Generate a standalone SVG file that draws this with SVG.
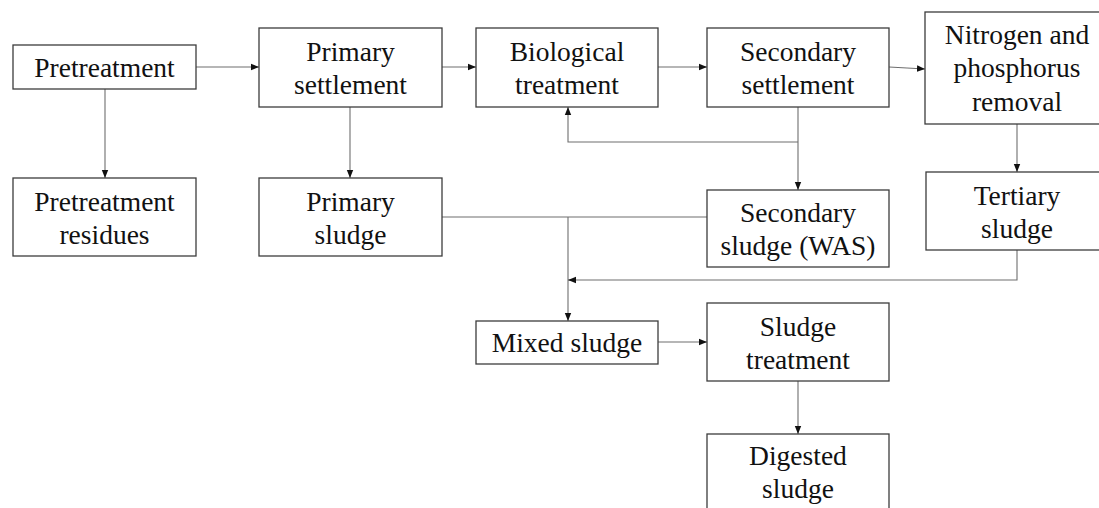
<svg xmlns="http://www.w3.org/2000/svg" width="1099" height="508" viewBox="0 0 1099 508">
<style>
.box{fill:#fff;stroke:#3c3c3c;stroke-width:1.3}
.t{font-family:"Liberation Serif","Times New Roman",serif;font-size:27.5px;fill:#111;text-anchor:middle}
.c{fill:none;stroke:#6e6e6e;stroke-width:1.1}
.a{marker-end:url(#ah)}
</style>
<defs>
<marker id="ah" viewBox="0 0 8 8" refX="8" refY="4" markerWidth="8" markerHeight="8" markerUnits="userSpaceOnUse" orient="auto">
<path d="M0,0.8 L8,4 L0,7.2 Z" fill="#111"/>
</marker>
</defs>
<rect width="1099" height="508" fill="#fff"/>
<g id="connectors">
<path class="c a" d="M196,67 H259"/>
<path class="c a" d="M442,67 H476"/>
<path class="c a" d="M658,67 H707"/>
<path class="c a" d="M889,67 L925,69"/>
<path class="c a" d="M105,89 V178"/>
<path class="c a" d="M350,107 V178"/>
<path class="c a" d="M798,107 V190"/>
<path class="c a" d="M798,142 H568 V107"/>
<path class="c a" d="M1017,124 V172"/>
<path class="c" d="M442,217 H707"/>
<path class="c a" d="M568,217 V321"/>
<path class="c a" d="M1017,250 V280 H568"/>
<path class="c a" d="M658,342 H707"/>
<path class="c a" d="M798,381 V434"/>
</g>
<g id="pretreatment"><rect class="box" x="13" y="45" width="183" height="44"/><text class="t" x="104.5" y="77">Pretreatment</text></g>
<g id="primary-settlement"><rect class="box" x="259" y="28" width="183" height="79"/><text class="t" x="350.5" y="61">Primary</text><text class="t" x="350.5" y="94">settlement</text></g>
<g id="biological-treatment"><rect class="box" x="476" y="28" width="182" height="79"/><text class="t" x="567" y="61">Biological</text><text class="t" x="567" y="94">treatment</text></g>
<g id="secondary-settlement"><rect class="box" x="707" y="28" width="182" height="79"/><text class="t" x="798" y="61">Secondary</text><text class="t" x="798" y="94">settlement</text></g>
<g id="nitrogen-phosphorus-removal"><rect class="box" x="925" y="12" width="184" height="112"/><text class="t" x="1017" y="44">Nitrogen and</text><text class="t" x="1017" y="77">phosphorus</text><text class="t" x="1017" y="111">removal</text></g>
<g id="pretreatment-residues"><rect class="box" x="13" y="178" width="183" height="78"/><text class="t" x="104.5" y="211">Pretreatment</text><text class="t" x="104.5" y="244">residues</text></g>
<g id="primary-sludge"><rect class="box" x="259" y="178" width="183" height="78"/><text class="t" x="350.5" y="211">Primary</text><text class="t" x="350.5" y="244">sludge</text></g>
<g id="secondary-sludge"><rect class="box" x="707" y="190" width="182" height="77"/><text class="t" x="798" y="222">Secondary</text><text class="t" x="798" y="255">sludge (WAS)</text></g>
<g id="tertiary-sludge"><rect class="box" x="926" y="172" width="184" height="78"/><text class="t" x="1017" y="205">Tertiary</text><text class="t" x="1017" y="238">sludge</text></g>
<g id="mixed-sludge"><rect class="box" x="476" y="321" width="182" height="43"/><text class="t" x="567" y="352">Mixed sludge</text></g>
<g id="sludge-treatment"><rect class="box" x="707" y="303" width="182" height="78"/><text class="t" x="798" y="336">Sludge</text><text class="t" x="798" y="369">treatment</text></g>
<g id="digested-sludge"><rect class="box" x="707" y="434" width="182" height="80"/><text class="t" x="798" y="465">Digested</text><text class="t" x="798" y="498">sludge</text></g>
</svg>
